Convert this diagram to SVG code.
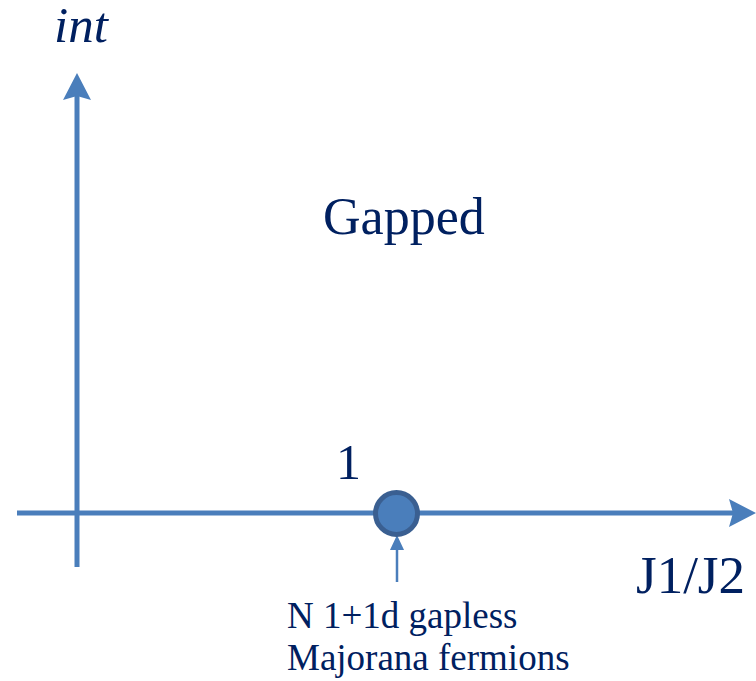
<svg xmlns="http://www.w3.org/2000/svg" width="756" height="681" viewBox="0 0 756 681">
<style>
.t{font-family:"Liberation Serif","Times New Roman",serif;fill:#002060}
.ax{stroke:#4A7EBB;stroke-width:5;fill:none}
.ah{fill:#4A7EBB}
</style>
<rect width="756" height="681" fill="#fff"/>
<g id="connectors">
<g id="y-axis">
<line class="ax" x1="77" y1="567" x2="77" y2="94"/>
<path class="ah" d="M77,73 L91,100 L77,96 L63,100 Z"/>
</g>
<g id="x-axis">
<line class="ax" x1="17" y1="513" x2="736" y2="513"/>
<path class="ah" d="M756,513 L729,499 L733,513 L729,527 Z"/>
</g>
<g id="pointer">
<line x1="397" y1="582" x2="397" y2="547" stroke="#4A7EBB" stroke-width="2.5"/>
<path class="ah" d="M397,535 L404,550 L390,550 Z"/>
</g>
</g>
<g id="critical-point">
<circle cx="396.5" cy="513.5" r="21" fill="#4A7EBB" stroke="#3A5F91" stroke-width="5"/>
</g>
<g id="labels">
<text class="t" x="54" y="42" font-size="51" font-style="italic">int</text>
<text class="t" x="323" y="234" font-size="52">Gapped</text>
<text class="t" x="336" y="479" font-size="50">1</text>
<text class="t" x="636" y="593" font-size="53">J1/J2</text>
<text class="t" x="287" y="628" font-size="37">N 1+1d gapless</text>
<text class="t" x="287" y="670" font-size="37">Majorana fermions</text>
</g>
</svg>
